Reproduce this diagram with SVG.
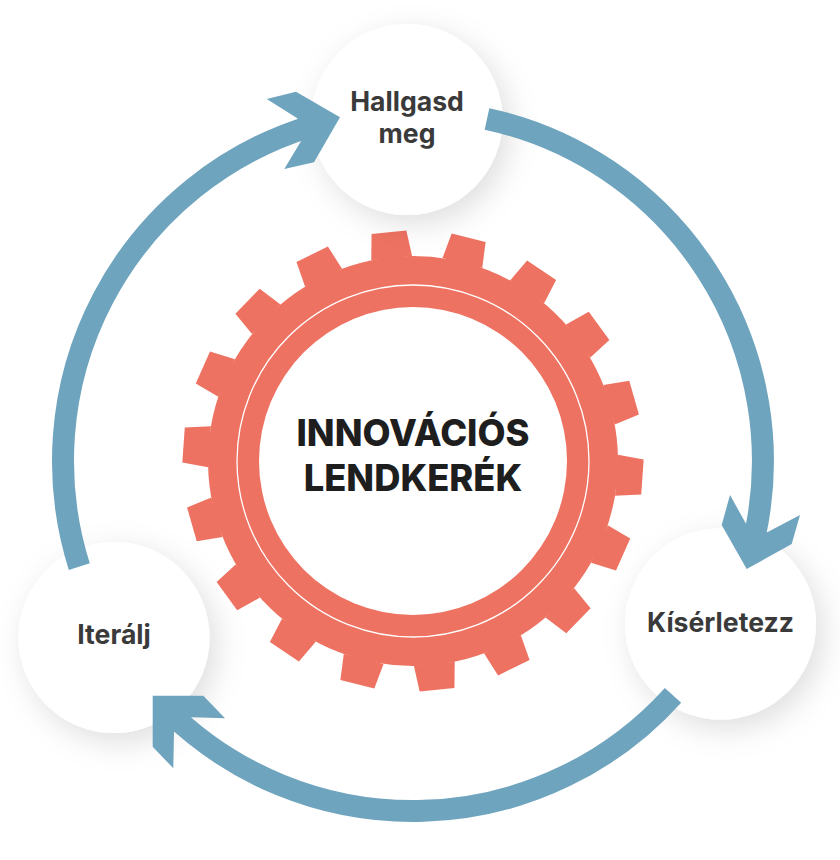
<svg xmlns="http://www.w3.org/2000/svg" width="840" height="860" viewBox="0 0 840 860">
<style>
.arc{fill:none;stroke:#6fa4be;stroke-width:22}
.head{fill:#6fa4be}
.gear{fill:#ee7261}
.node{fill:#fff;filter:url(#sh)}
.lbl{font-family:Inter,"Liberation Sans",sans-serif;font-weight:700;font-size:26.6px;fill:#3a3a3a;text-anchor:middle}
.title{font-family:Inter,"Liberation Sans",sans-serif;font-weight:800;font-size:36.3px;fill:#1e1e1e;text-anchor:middle}
</style>
<defs>
<filter id="sh" x="-40%" y="-40%" width="190%" height="190%"><feDropShadow dx="7" dy="9" stdDeviation="15" flood-color="#000" flood-opacity="0.13"/></filter>
<path id="tooth" d="M-20.5 -204 L-17.5 -230 L17.5 -230 L20.5 -204 Z"/>
</defs>
<rect width="840" height="860" fill="#fff"/>
<g id="gear" transform="translate(413 461)">
<g class="gear" transform="rotate(-1)">
<use href="#tooth" transform="rotate(-5)"/><use href="#tooth" transform="rotate(15)"/><use href="#tooth" transform="rotate(35)"/>
<use href="#tooth" transform="rotate(55)"/><use href="#tooth" transform="rotate(75)"/><use href="#tooth" transform="rotate(95)"/>
<use href="#tooth" transform="rotate(115)"/><use href="#tooth" transform="rotate(135)"/><use href="#tooth" transform="rotate(155)"/>
<use href="#tooth" transform="rotate(175)"/><use href="#tooth" transform="rotate(195)"/><use href="#tooth" transform="rotate(215)"/>
<use href="#tooth" transform="rotate(235)"/><use href="#tooth" transform="rotate(255)"/><use href="#tooth" transform="rotate(275)"/>
<use href="#tooth" transform="rotate(295)"/><use href="#tooth" transform="rotate(315)"/><use href="#tooth" transform="rotate(335)"/>
<circle r="205"/>
</g>
<circle r="176" fill="none" stroke="#fff" stroke-width="1.3"/>
<circle r="154" fill="#fff"/>
</g>
<g id="center-label">
<text class="title" x="413" y="446">INNOVÁCIÓS</text>
<text class="title" x="413" y="491">LENDKERÉK</text>
</g>
<g id="node-hallgasd"><circle class="node" cx="407" cy="119.5" r="95.5"/>
<text class="lbl" x="407" y="111">Hallgasd</text><text class="lbl" x="407" y="143">meg</text></g>
<g id="node-kiserletezz"><circle class="node" cx="720.5" cy="624" r="95.5"/>
<text class="lbl" x="720.5" y="632">Kísérletezz</text></g>
<g id="node-iteralj"><circle class="node" cx="114" cy="637.5" r="95.5"/>
<text class="lbl" x="114" y="644">Iterálj</text></g>
<g id="connectors">
<path class="arc" d="M487 118.9 A350 350 0 0 1 755 535"/>
<polygon class="head" points="730,495 746.7,525 767.3,532.3 800,515 791.7,544 746.7,569 721.7,525"/>
<path class="arc" d="M673 695.3 A350 350 0 0 1 168 711"/>
<polygon class="head" points="152.7,695.7 203.3,695.7 225,718.3 191.7,717.3 174,731.7 173.3,768.3 152.7,746.7"/>
<path class="arc" d="M79.3 566.6 A350 350 0 0 1 310 126.5"/>
<polygon class="head" points="266.7,99 296,91.7 340,117.3 314,162.3 284.3,169 301.7,140 297.3,118.3"/>
</g>
</svg>
